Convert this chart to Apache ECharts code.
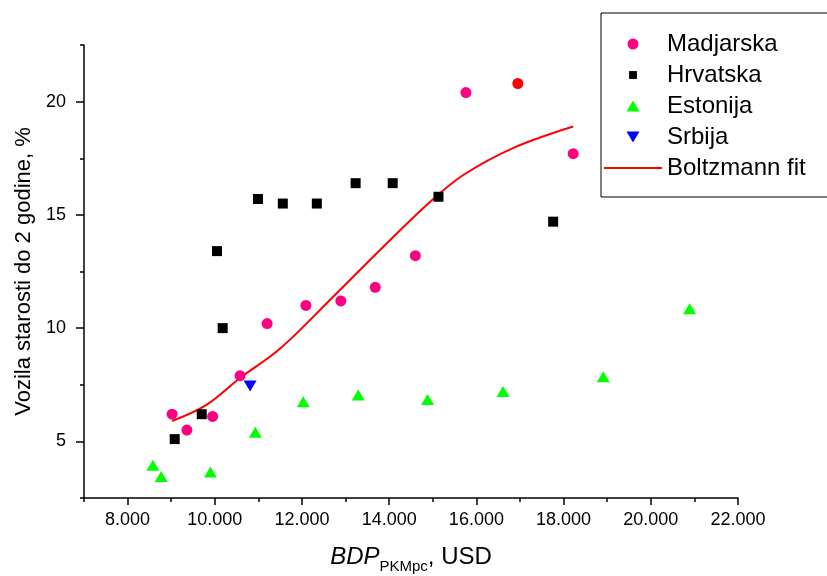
<!DOCTYPE html>
<html>
<head>
<meta charset="utf-8">
<script src="https://cdn.jsdelivr.net/npm/echarts@6/dist/echarts.min.js"></script>
<style>html,body{margin:0;padding:0;background:#fff}#c{width:827px;height:576px}</style>
</head>
<body>
<div id="c"></div>
<script>
// ---- data ----
const madjarska = [[9020,6.2],[9360,5.5],[9950,6.1],[10580,7.9],[11200,10.2],[12090,11.0],[12890,11.2],[13680,11.8],[14600,13.2],[15760,20.4],[16950,20.8],[18220,17.7]];
const madjarskaRedIndex = 10;
const hrvatska = [[9080,5.1],[9700,6.2],[10050,13.4],[10180,10.0],[10990,15.7],[11560,15.5],[12340,15.5],[13230,16.4],[14080,16.4],[15130,15.8],[17760,14.7]];
const estonija = [[8580,3.95],[8770,3.45],[9900,3.65],[10930,5.4],[12030,6.75],[13290,7.05],[14880,6.85],[16610,7.2],[18910,7.85],[20890,10.85]];
const srbija = [[10810,7.45]];
const boltzmannFit = [[9020,5.9],[9800,6.6],[10580,7.8],[11500,9.1],[12720,11.4],[13790,13.45],[14940,15.58],[15700,16.76],[16840,17.95],[18220,18.9]];
const xMajorTicks = [8000,10000,12000,14000,16000,18000,20000,22000];
const xMinorTicks = [7000,9000,11000,13000,15000,17000,19000,21000];
const yMajorTicks = [5,10,15,20];
const yMinorTicks = [2.5,7.5,12.5,17.5,22.5];
const seriesNames = ['Madjarska','Hrvatska','Estonija','Srbija','Boltzmann fit'];

const FONT = 'Liberation Sans, Arial, Helvetica, sans-serif';
const chart = echarts.init(document.getElementById('c'), null, {renderer:'canvas'});

const baseX = {type:'value', min:7000, max:22000, interval:1000, position:'bottom', splitLine:{show:false}};
const baseY = {type:'value', min:2.5, max:22.5, interval:2.5, position:'left', splitLine:{show:false}};

const option = {
  animation:false,
  backgroundColor:'#fff',
  grid:{left:84, right:89, top:45, bottom:78, containLabel:false, outerBoundsMode:'none'},
  xAxis:[
    Object.assign({}, baseX, {
      axisLine:{show:true, lineStyle:{color:'#000', width:1.5}},
      axisTick:{show:true, inside:false, length:7, customValues:xMajorTicks, lineStyle:{color:'#000', width:1.5}},
      axisLabel:{customValues:xMajorTicks, color:'#000', fontSize:18, fontFamily:FONT, margin:13,
        formatter:v => (v/1000) + '.000'},
      name:'{i|BDP}{s|PKMpc}{n|, USD}',
      nameLocation:'middle', nameGap:47,
      nameTextStyle:{color:'#000', fontFamily:FONT, rich:{
        i:{fontSize:24, fontStyle:'italic', fontFamily:FONT, color:'#000', lineHeight:28, verticalAlign:'top'},
        n:{fontSize:24, fontFamily:FONT, color:'#000', lineHeight:28, verticalAlign:'top'},
        s:{fontSize:15, fontFamily:FONT, color:'#000', lineHeight:16, padding:[14,0,0,0], verticalAlign:'top'}
      }}
    }),
    Object.assign({}, baseX, {
      axisLine:{show:false},
      axisTick:{show:true, inside:false, length:4, customValues:xMinorTicks, lineStyle:{color:'#000', width:1.5}},
      axisLabel:{show:false}
    })
  ],
  yAxis:[
    Object.assign({}, baseY, {
      axisLine:{show:true, lineStyle:{color:'#000', width:1.5}},
      axisTick:{show:true, inside:false, length:8, customValues:yMajorTicks, lineStyle:{color:'#000', width:1.5}},
      axisLabel:{customValues:yMajorTicks, color:'#000', fontSize:18, fontFamily:FONT, margin:18},
      name:'Vozila starosti do 2 godine, %',
      nameLocation:'middle', nameGap:38, nameRotate:90,
      nameTextStyle:{color:'#000', fontSize:22, fontFamily:FONT}
    }),
    Object.assign({}, baseY, {
      axisLine:{show:false},
      axisTick:{show:true, inside:false, length:4, customValues:yMinorTicks, lineStyle:{color:'#000', width:1.5}},
      axisLabel:{show:false}
    })
  ],
  legend:{
    left:601, top:13, orient:'vertical',
    padding:[19,40,17,3], itemGap:7, itemWidth:58, itemHeight:11,
    borderColor:'#000', borderWidth:1, backgroundColor:'#fff',
    selectedMode:false,
    textStyle:{color:'#000', fontSize:24, fontFamily:FONT},
    data:[
      {name:seriesNames[0], icon:'circle'},
      {name:seriesNames[1], icon:'path://M-2,-2L-2,-2M12,12L12,12M0,0H10V10H0Z'},
      {name:seriesNames[2], icon:'path://M6.5,0L13,11L0,11Z'},
      {name:seriesNames[3], icon:'path://M0,0L13,0L6.5,11Z'},
      {name:seriesNames[4], icon:'path://M0,0H58V2H0Z'}
    ]
  },
  series:[
    {name:seriesNames[4], type:'line', smooth:0.35, showSymbol:false, symbol:'none',
      data:boltzmannFit, lineStyle:{color:'#ff0000', width:2}, itemStyle:{color:'#ff0000'}, z:1},
    {name:seriesNames[0], type:'scatter', symbol:'circle', symbolSize:11, itemStyle:{color:'#ff0080', opacity:1},
      data:madjarska.map((d,i)=> i===madjarskaRedIndex ? {value:d, itemStyle:{color:'#ff0000', opacity:1}} : d), z:3},
    {name:seriesNames[1], type:'scatter', symbol:'rect', symbolSize:10, itemStyle:{color:'#000', opacity:1}, data:hrvatska, z:3},
    {name:seriesNames[2], type:'scatter', symbol:'triangle', symbolSize:[13,11], itemStyle:{color:'#00ff00', opacity:1}, data:estonija, z:3},
    {name:seriesNames[3], type:'scatter', symbol:'triangle', symbolRotate:180, symbolSize:[13,11], itemStyle:{color:'#0000ff', opacity:1}, data:srbija, z:3}
  ]
};
chart.setOption(option);
</script>
</body>
</html>
